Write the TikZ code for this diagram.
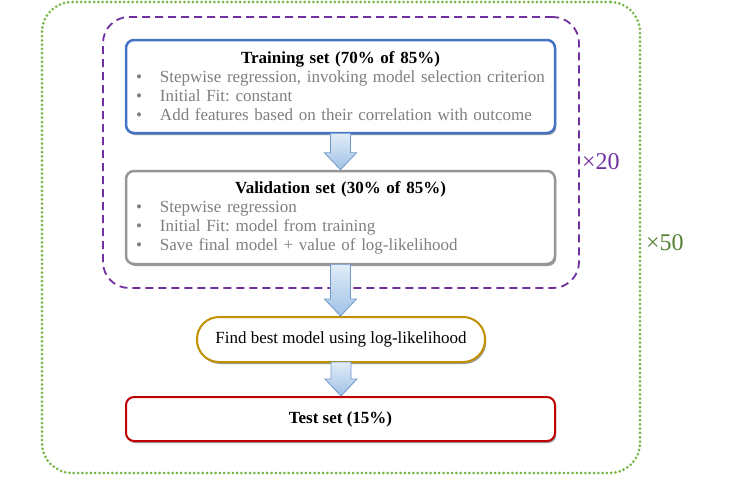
\documentclass[tikz,border=0pt]{standalone}
\usepackage{fontspec}
\setmainfont{Liberation Serif}
\usetikzlibrary{shadows,calc}
\definecolor{framegreen}{RGB}{118,182,70}
\definecolor{labelgreen}{RGB}{84,130,53}
\definecolor{framepurple}{RGB}{112,48,160}
\definecolor{trainblue}{RGB}{68,114,196}
\definecolor{validgray}{RGB}{150,150,150}
\definecolor{findgold}{RGB}{191,144,0}
\definecolor{testred}{RGB}{192,0,0}
\definecolor{bulgray}{RGB}{127,127,127}
\definecolor{arrowline}{RGB}{112,152,204}
\definecolor{arrowtop}{RGB}{225,236,248}
\definecolor{arrowbot}{RGB}{160,194,230}
\frenchspacing
\newcommand{\bitem}{\makebox[24pt][l]{\textbullet}}
\newcommand{\blockarrow}[2]{%
  \path[arrowbody] let \p1=(#1.south), \p2=(#2.north) in
    (\x1-10pt,\y1+1pt) -- (\x1+10pt,\y1+1pt) -- (\x1+10pt,\y2+17pt) -- (\x1+16pt,\y2+17pt)
    -- (\x1,\y2) -- (\x1-16pt,\y2+17pt) -- (\x1-10pt,\y2+17pt) -- cycle;}
\begin{document}
\begin{tikzpicture}[x=1pt,y=-1pt,
  font=\fontsize{17pt}{19pt}\selectfont,
  shadowed/.style={drop shadow={shadow xshift=1.2pt,shadow yshift=-2pt,fill=black,opacity=0.4}},
  bigbox/.style={rounded corners=8pt, fill=white, line width=2.5pt, align=left,
    inner xsep=10pt, inner ysep=0pt, text width=409pt, minimum height=93pt, shadowed},
  smallbox/.style={fill=white, line width=2pt, align=center, inner sep=0pt, shadowed},
  arrowbody/.style={draw=arrowline, line width=0.8pt, top color=arrowtop, bottom color=arrowbot},
  greenframe/.style={draw=framegreen, line width=3pt, line cap=round, dash pattern=on 0pt off 4.3pt, rounded corners=30pt},
  purpleframe/.style={draw=framepurple, line width=1.8pt, dash pattern=on 8pt off 5pt, rounded corners=26pt},
  rep/.style={anchor=west, inner sep=0pt, font=\fontsize{24pt}{26pt}\selectfont}
]
\useasboundingbox (0,0) rectangle (750,482);
\node[greenframe, minimum width=598pt, minimum height=471pt] (outer) at (341,237.5) {};
\node[purpleframe, minimum width=476pt, minimum height=271pt] (inner) at (341,152.5) {};
\node[rep, text=framepurple] (x20) at (582,162) {×20};
\node[rep, text=labelgreen] (x50) at (646,243) {×50};

\node[bigbox, draw=trainblue] (train) at (340.5,86.5)
  {\centering\bfseries Training set (70\% of 85\%)\par
   \raggedright\mdseries\color{bulgray}%
   \bitem Stepwise regression, invoking model selection criterion\par
   \bitem Initial Fit: constant\par
   \bitem Add features based on their correlation with outcome\par};
\node[bigbox, draw=validgray] (valid) at (340.5,217.5)
  {\centering\bfseries Validation set (30\% of 85\%)\par
   \raggedright\mdseries\color{bulgray}%
   \bitem Stepwise regression\par
   \bitem Initial Fit: model from training\par
   \bitem Save final model + value of log-likelihood\par};
\node[smallbox, draw=findgold, rounded corners=22pt, minimum width=288pt, minimum height=45pt] (find) at (341,339.5)
  {Find best model using log-likelihood};
\node[smallbox, draw=testred, rounded corners=8pt, minimum width=429pt, minimum height=44pt] (test) at (340.5,419)
  {\bfseries Test set (15\%)};

\blockarrow{train}{valid}
\blockarrow{valid}{find}
\blockarrow{find}{test}
\end{tikzpicture}
\end{document}
